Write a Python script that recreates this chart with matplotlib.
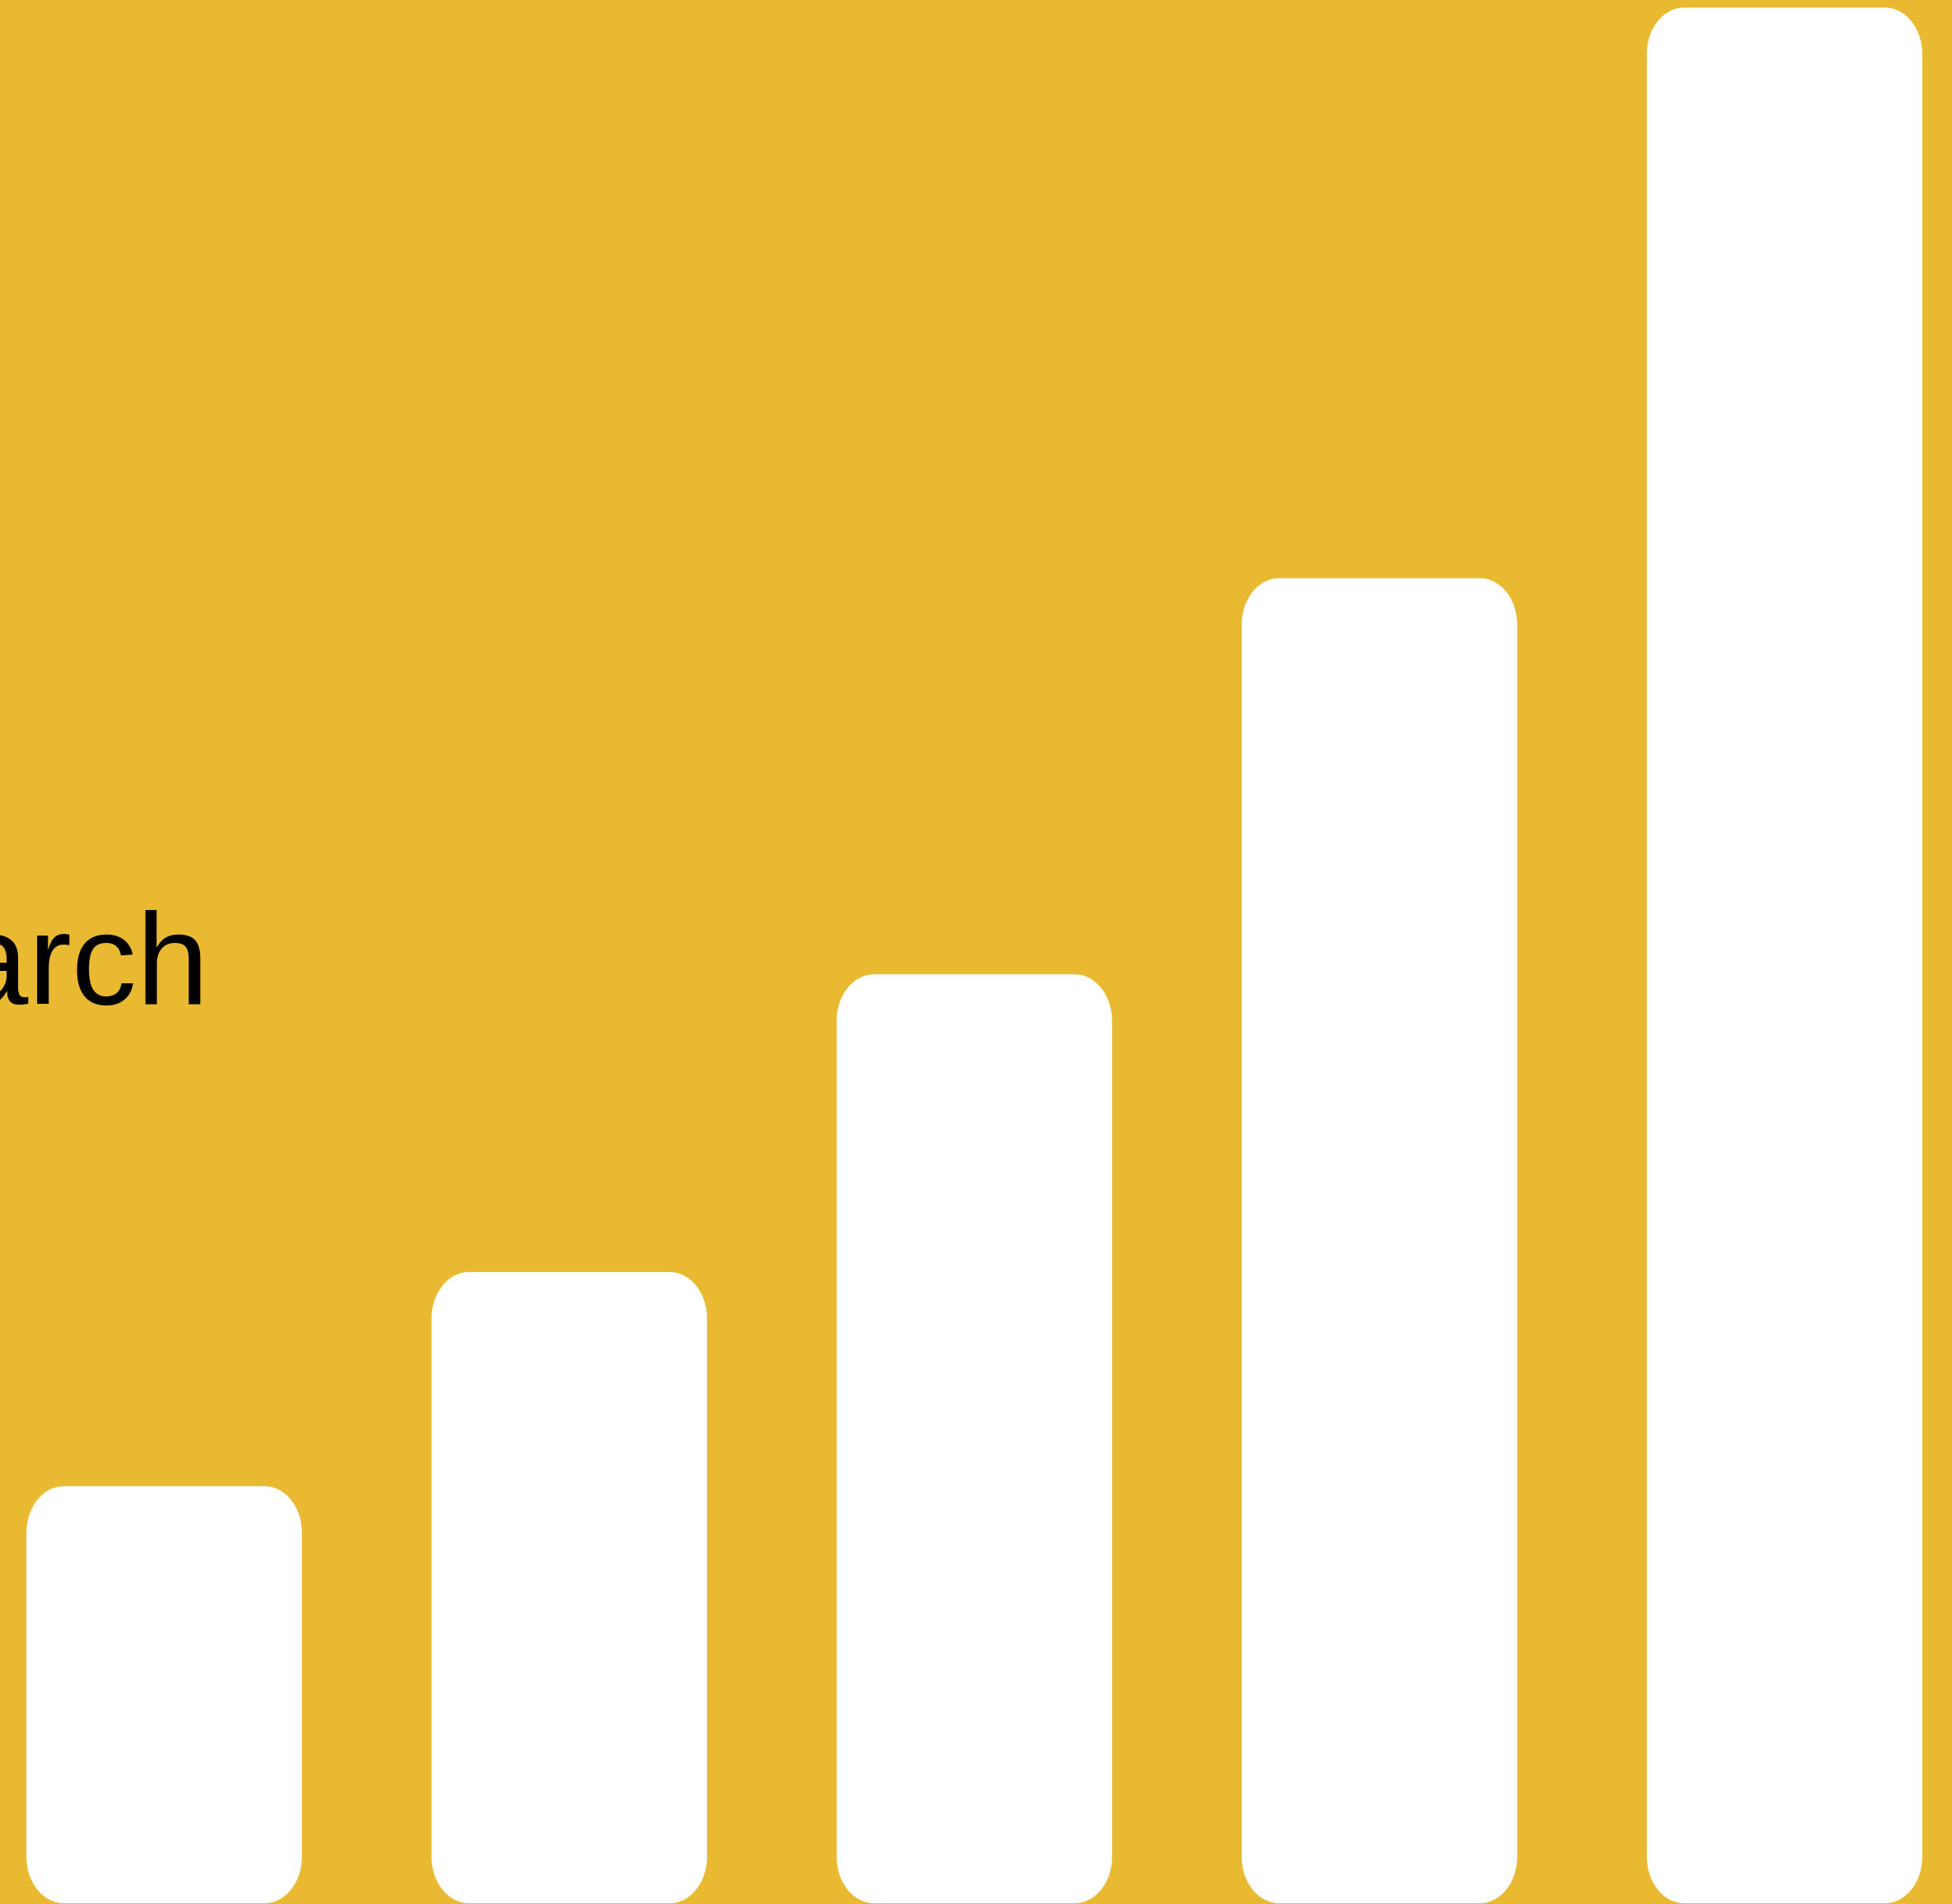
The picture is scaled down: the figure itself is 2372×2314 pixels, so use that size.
import matplotlib.pyplot as plt
from matplotlib.path import Path
from matplotlib.patches import PathPatch

# valores (altura relativa das barras)
months = ["Jan", "Feb", "Mar", "Apr", "May"]
values = [22, 33.3, 49, 69.9, 100]
label_text = "March"

bg_color = "#EAB932"
bar_color = "#FFFFFF"
bar_width = 0.68


def rounded_bar(x0, w, h, rx, ry):
    """Retangulo com cantos elipticos (arcos aproximados por Bezier cubica)."""
    k = 0.5523
    x1 = x0 + w
    verts = [
        (x0 + rx, 0),
        (x1 - rx, 0),
        (x1 - rx + k * rx, 0), (x1, ry - k * ry), (x1, ry),
        (x1, h - ry),
        (x1, h - ry + k * ry), (x1 - rx + k * rx, h), (x1 - rx, h),
        (x0 + rx, h),
        (x0 + rx - k * rx, h), (x0, h - ry + k * ry), (x0, h - ry),
        (x0, ry),
        (x0, ry - k * ry), (x0 + rx - k * rx, 0), (x0 + rx, 0),
        (x0 + rx, 0),
    ]
    codes = [Path.MOVETO, Path.LINETO,
             Path.CURVE4, Path.CURVE4, Path.CURVE4,
             Path.LINETO,
             Path.CURVE4, Path.CURVE4, Path.CURVE4,
             Path.LINETO,
             Path.CURVE4, Path.CURVE4, Path.CURVE4,
             Path.LINETO,
             Path.CURVE4, Path.CURVE4, Path.CURVE4,
             Path.CLOSEPOLY]
    return Path(verts, codes)


fig = plt.figure(figsize=(23.72, 23.14), dpi=100)
fig.patch.set_facecolor(bg_color)
ax = fig.add_axes([0, 0, 1, 1])
ax.set_facecolor(bg_color)
ax.set_xlim(-0.4053, 4.4134)
ax.set_ylim(-0.04, 100.4)
ax.axis("off")

# raio dos cantos (unidades de dados)
rx = 0.092
ry = 2.45
for i, v in enumerate(values):
    p = rounded_bar(i - bar_width / 2, bar_width, v, rx, ry)
    ax.add_patch(PathPatch(p, facecolor=bar_color, edgecolor="none"))

ax.text(-0.781, 47.44, label_text, ha="left", va="baseline",
        fontsize=113.6, family="Liberation Sans", color="black")

fig.savefig("out.png", dpi=100, facecolor=bg_color)
